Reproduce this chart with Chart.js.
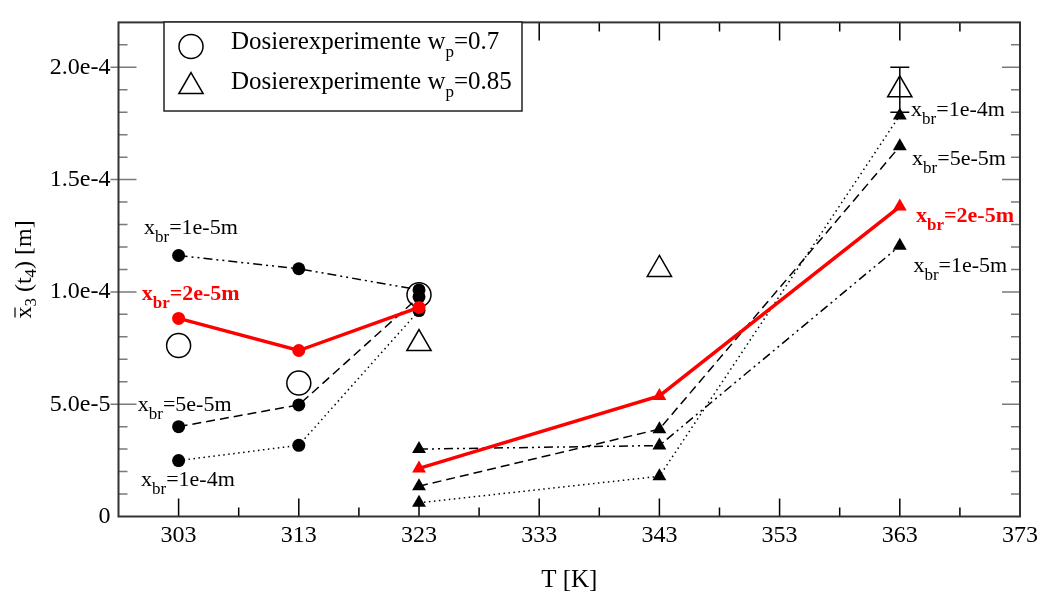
<!DOCTYPE html>
<html>
<head>
<meta charset="utf-8">
<script src="https://cdn.jsdelivr.net/npm/chart.js@4.4.0/dist/chart.umd.min.js"></script>
<style>body{margin:0;background:#fff}</style>
</head>
<body>
<canvas id="myChart" width="1043" height="594"></canvas>
<script>
"use strict";
// temperatures of the two simulation groups
const tempC = [303, 313, 323];
const tempT = [323, 343, 363];

// simulation, x_br values (circles, left group)
const br1e5C = [1.162e-4, 1.103e-4, 1.009e-4];
const br2e5C = [8.82e-5, 7.39e-5, 9.31e-5];
const br5e5C = [4.0e-5, 4.97e-5, 9.78e-5];
const br1e4C = [2.49e-5, 3.17e-5, 9.17e-5];

// simulation, x_br values (triangles, right group)
const br1e5T = [3.0e-5, 3.16e-5, 1.205e-4];
const br2e5T = [2.14e-5, 5.37e-5, 1.38e-4];
const br5e5T = [1.35e-5, 3.89e-5, 1.648e-4];
const br1e4T = [0.61e-5, 1.79e-5, 1.786e-4];

// dosing experiments
const tempExp70 = [303, 313, 323];
const exp70 = [7.61e-5, 5.94e-5, 9.87e-5];
const tempExp85 = [323, 343, 363];
const exp85 = [7.7e-5, 1.10e-4, 1.90e-4];
const exp85Err = [0, 0, 1.0e-5];

// ticks
const xTicks = [303, 313, 323, 333, 343, 353, 363, 373];
const xTickLabels = ['303', '313', '323', '333', '343', '353', '363', '373'];
const yTicks = [0, 5e-5, 1e-4, 1.5e-4, 2e-4];
const yTickLabels = ['0', '5.0e-5', '1.0e-4', '1.5e-4', '2.0e-4'];

// curve labels, [text after "x_br", x, y, colour, bold]
const curveLabels = [
    ['=1e-5m', 300.12, 1.26e-4, '#000', false],
    ['=2e-5m', 299.93, 0.964e-4, '#f00', true],
    ['=5e-5m', 299.6, 0.471e-4, '#000', false],
    ['=1e-4m', 299.87, 0.137e-4, '#000', false],
    ['=1e-4m', 363.94, 1.783e-4, '#000', false],
    ['=5e-5m', 364.02, 1.566e-4, '#000', false],
    ['=2e-5m', 364.35, 1.312e-4, '#f00', true],
    ['=1e-5m', 364.13, 1.087e-4, '#000', false]
];

const SERIF = '"Liberation Serif", "Times New Roman", serif';

function pts(xs, ys) {
    return xs.map((v, i) => ({x: v, y: ys[i]}));
}

// draw a run of text pieces, each {t, size, bold, dy}
function drawRuns(ctx, x, y, runs, color) {
    ctx.fillStyle = color;
    ctx.textBaseline = 'alphabetic';
    ctx.textAlign = 'left';
    runs.forEach(r => {
        ctx.font = (r.bold ? 'bold ' : '') + r.size + 'px ' + SERIF;
        ctx.fillText(r.t, x, y + (r.dy || 0));
        x += ctx.measureText(r.t).width;
    });
    return x;
}
function runsWidth(ctx, runs) {
    let w = 0;
    runs.forEach(r => {
        ctx.font = (r.bold ? 'bold ' : '') + r.size + 'px ' + SERIF;
        w += ctx.measureText(r.t).width;
    });
    return w;
}

function triPath(ctx, x, y, r) {
    ctx.beginPath();
    ctx.moveTo(x, y - r);
    ctx.lineTo(x + Math.sin(2 * Math.PI / 3) * r, y - Math.cos(2 * Math.PI / 3) * r);
    ctx.lineTo(x + Math.sin(4 * Math.PI / 3) * r, y - Math.cos(4 * Math.PI / 3) * r);
    ctx.closePath();
}

const framePlugin = {
    id: 'frame',
    beforeDatasetsDraw(chart) {
        const {ctx, chartArea: a, scales: {x, y}} = chart;
        ctx.save();
        ctx.lineWidth = 1.5;
        // x ticks top and bottom
        ctx.strokeStyle = '#000';
        for (let v = 303; v <= 373; v += 5) {
            const px = x.getPixelForValue(v);
            const len = (v - 303) % 10 === 0 ? 18 : 9;
            ctx.beginPath();
            ctx.moveTo(px, a.bottom); ctx.lineTo(px, a.bottom - len);
            ctx.moveTo(px, a.top); ctx.lineTo(px, a.top + len);
            ctx.stroke();
        }
        // y ticks left and right
        ctx.strokeStyle = '#7a7a7a';
        for (let k = 1; k <= 21; k++) {
            const py = y.getPixelForValue(k * 1e-5);
            const major = k % 5 === 0;
            ctx.beginPath();
            if (major) {
                ctx.moveTo(a.left - 8, py); ctx.lineTo(a.left + 18, py);
                ctx.moveTo(a.right - 18, py); ctx.lineTo(a.right, py);
            } else {
                ctx.moveTo(a.left, py); ctx.lineTo(a.left + 9, py);
                ctx.moveTo(a.right - 9, py); ctx.lineTo(a.right, py);
            }
            ctx.stroke();
        }
        ctx.restore();
    },
    afterDatasetsDraw(chart) {
        const {ctx, chartArea: a, scales: {x, y}} = chart;
        ctx.save();
        // error bars
        ctx.strokeStyle = '#000';
        ctx.lineWidth = 1.5;
        exp85.forEach((v, i) => {
            if (!exp85Err[i]) return;
            const px = x.getPixelForValue(tempExp85[i]);
            const top = y.getPixelForValue(v + exp85Err[i]);
            const bot = y.getPixelForValue(v - exp85Err[i]);
            ctx.beginPath();
            ctx.moveTo(px, top); ctx.lineTo(px, bot);
            ctx.moveTo(px - 9.5, top); ctx.lineTo(px + 9.5, top);
            ctx.moveTo(px - 9.5, bot); ctx.lineTo(px + 9.5, bot);
            ctx.stroke();
        });
        // frame
        ctx.strokeStyle = '#333';
        ctx.lineWidth = 2;
        ctx.strokeRect(a.left, a.top, a.right - a.left, a.bottom - a.top);

        // curve labels
        curveLabels.forEach(l => {
            const px = x.getPixelForValue(l[1]);
            const py = y.getPixelForValue(l[2]);
            drawRuns(ctx, px, py, [
                {t: 'x', size: 22, bold: l[4]},
                {t: 'br', size: 17, bold: l[4], dy: 8},
                {t: l[0], size: 22, bold: l[4]}
            ], l[3]);
        });

        // legend
        const lx = 164, ly = 22, lw = 358, lh = 89;
        ctx.fillStyle = '#fff';
        ctx.fillRect(lx, ly, lw, lh);
        ctx.strokeStyle = '#222';
        ctx.lineWidth = 1.5;
        ctx.strokeRect(lx, ly, lw, lh);
        ctx.strokeStyle = '#000';
        ctx.beginPath();
        ctx.arc(191, 46.5, 12, 0, Math.PI * 2);
        ctx.stroke();
        triPath(ctx, 191, 86.5, 14);
        ctx.stroke();
        drawRuns(ctx, 231, 48.5, [
            {t: 'Dosierexperimente w', size: 25},
            {t: 'p', size: 17, dy: 8},
            {t: '=0.7', size: 25}
        ], '#000');
        drawRuns(ctx, 231, 88.5, [
            {t: 'Dosierexperimente w', size: 25},
            {t: 'p', size: 17, dy: 8},
            {t: '=0.85', size: 25}
        ], '#000');

        // x title
        ctx.font = '25px ' + SERIF;
        ctx.fillStyle = '#000';
        ctx.textAlign = 'center';
        ctx.textBaseline = 'alphabetic';
        ctx.fillText('T [K]', (a.left + a.right) / 2, 587);

        // y title, rotated
        const yRuns = [
            {t: 'x', size: 24},
            {t: '3', size: 17, dy: 5},
            {t: ' (t', size: 24},
            {t: '4', size: 17, dy: 5},
            {t: ') [m]', size: 24}
        ];
        const tw = runsWidth(ctx, yRuns);
        ctx.translate(31, (a.top + a.bottom) / 2);
        ctx.rotate(-Math.PI / 2);
        const x0 = -tw / 2;
        drawRuns(ctx, x0, 0, yRuns, '#000');
        ctx.font = '24px ' + SERIF;
        const xw = ctx.measureText('x').width;
        ctx.lineWidth = 1.2;
        ctx.strokeStyle = '#000';
        ctx.beginPath();
        ctx.moveTo(x0 + 1, -16); ctx.lineTo(x0 + xw - 1, -16);
        ctx.stroke();
        ctx.restore();
    }
};

const blackLine = {
    showLine: true,
    borderColor: '#000',
    backgroundColor: '#000',
    borderWidth: 1.5,
    pointBorderWidth: 0
};

const ctx = document.getElementById('myChart').getContext('2d');
const chart = new Chart(ctx, {
    type: 'scatter',
    data: {
        datasets: [
            // red x_br=2e-5m
            {data: pts(tempC, br2e5C), showLine: true, borderColor: '#f00', backgroundColor: '#f00',
                borderWidth: 3.5, pointStyle: 'circle', pointRadius: 6.5, pointBorderWidth: 0},
            {data: pts(tempT, br2e5T), showLine: true, borderColor: '#f00', backgroundColor: '#f00',
                borderWidth: 3.5, pointStyle: 'triangle', pointRadius: 8, pointBorderWidth: 0},
            // black circles
            Object.assign({data: pts(tempC, br1e5C), borderDash: [9, 4, 2, 4, 2, 4], pointStyle: 'circle', pointRadius: 6.5}, blackLine),
            Object.assign({data: pts(tempC, br5e5C), borderDash: [9, 5], pointStyle: 'circle', pointRadius: 6.5}, blackLine),
            Object.assign({data: pts(tempC, br1e4C), borderDash: [1.5, 3.5], pointStyle: 'circle', pointRadius: 6.5}, blackLine),
            // black triangles
            Object.assign({data: pts(tempT, br1e5T), borderDash: [9, 4, 2, 4, 2, 4], pointStyle: 'triangle', pointRadius: 8}, blackLine),
            Object.assign({data: pts(tempT, br5e5T), borderDash: [9, 5], pointStyle: 'triangle', pointRadius: 8}, blackLine),
            Object.assign({data: pts(tempT, br1e4T), borderDash: [1.5, 3.5], pointStyle: 'triangle', pointRadius: 8}, blackLine),
            // experiments
            {data: pts(tempExp70, exp70), showLine: false, pointStyle: 'circle', pointRadius: 12,
                backgroundColor: 'rgba(0,0,0,0)', borderColor: '#000', pointBorderWidth: 1.5},
            {data: pts(tempExp85, exp85), showLine: false, pointStyle: 'triangle', pointRadius: 14,
                backgroundColor: 'rgba(0,0,0,0)', borderColor: '#000', pointBorderWidth: 1.5}
        ]
    },
    options: {
        responsive: false,
        animation: false,
        devicePixelRatio: 1,
        layout: {padding: {top: 11, right: 22, left: 0, bottom: 0}},
        plugins: {
            legend: {display: false},
            tooltip: {enabled: false}
        },
        scales: {
            x: {
                type: 'linear',
                min: 298,
                max: 373,
                grid: {display: false, drawTicks: false},
                border: {display: false},
                afterBuildTicks: s => { s.ticks = xTicks.map(v => ({value: v})); },
                afterFit: s => { s.height = 77.5; },
                ticks: {
                    autoSkip: false,
                    maxRotation: 0,
                    padding: 5,
                    color: '#000',
                    font: {family: SERIF, size: 24},
                    callback: v => xTickLabels[xTicks.indexOf(v)]
                }
            },
            y: {
                min: 0,
                max: 2.2e-4,
                grid: {display: false, drawTicks: false},
                border: {display: false},
                afterBuildTicks: s => { s.ticks = yTicks.map(v => ({value: v})); },
                afterFit: s => { s.width = 118.5; },
                ticks: {
                    padding: 8,
                    color: '#000',
                    font: {family: SERIF, size: 24},
                    callback: v => yTickLabels[Math.round(v / 5e-5)]
                }
            }
        }
    },
    plugins: [framePlugin]
});
</script>
</body>
</html>
